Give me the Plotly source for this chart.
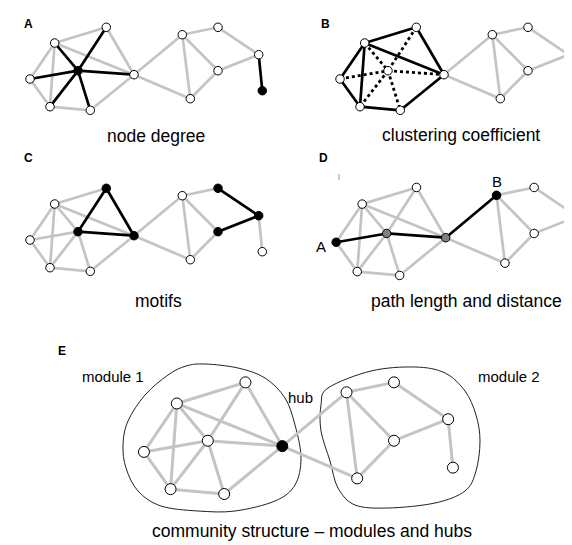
import plotly.graph_objects as go

# ---- network data (base layout, panel A pixel space) ----
node_x = [46.7, 98.3, 22.0, 70.0, 42.0, 82.3, 126.0, 174.3, 210.0, 250.7, 210.0, 182.3, 254.3]
node_y = [35.0, 19.3, 71.0, 62.7, 98.7, 102.3, 66.7, 26.7, 19.3, 46.7, 62.7, 90.7, 82.7]
edges = [(0, 1), (0, 2), (0, 3), (0, 4), (0, 6), (1, 3), (1, 6), (2, 3), (2, 4), (3, 4),
         (3, 5), (3, 6), (4, 5), (5, 6), (6, 7), (6, 11), (7, 8), (7, 10), (7, 11),
         (8, 9), (9, 10), (9, 12), (10, 11)]

# panel transforms: (sx, sy, tx, ty)
panels = {
    "A": (1.0, 1.0, 0.0, 0.0),
    "B": (1.0, 1.0, 310.0, 0.0),
    "C": (1.0, 1.0, 0.0, 161.0),
    "D": (1.053, 1.06, 305.0, 159.0),
    "E": (1.33, 1.345, 106.7, 348.4),
}
# highlighting per panel
black_edges = {
    "A": [(0, 3), (1, 3), (2, 3), (3, 4), (3, 5), (3, 6), (9, 12)],
    "B": [(0, 1), (0, 2), (0, 4), (0, 6), (1, 6), (2, 4), (4, 5), (5, 6)],
    "C": [(1, 3), (1, 6), (3, 6), (8, 9), (9, 10)],
    "D": [(2, 3), (3, 6), (6, 7)],
    "E": [],
}
dotted_edges = {"B": [(0, 3), (1, 3), (2, 3), (3, 4), (3, 5), (3, 6)]}
black_nodes = {"A": [3, 12], "B": [], "C": [1, 3, 6, 8, 9, 10], "D": [2, 7], "E": [6]}
grey_nodes = {"D": [3, 6]}

# module outlines (pixel space)
module1_x = [197, 230, 257, 277, 287, 293, 287, 267, 227, 190, 153, 130, 118, 115, 120, 137, 160, 178]
module1_y = [356, 360, 370, 390, 417, 450, 477, 493, 503, 503, 498, 483, 460, 437, 413, 387, 367, 358]
module2_x = [320, 363, 407, 437, 457, 468, 472, 468, 457, 427, 380, 347, 330, 322, 313, 313]
module2_y = [380, 363, 359, 365, 383, 407, 433, 463, 483, 495, 500, 497, 480, 453, 423, 397]

GREY = "#c4c4c4"
fig = go.Figure()


def pos(p, i):
    sx, sy, tx, ty = panels[p]
    return node_x[i] * sx + tx, node_y[i] * sy + ty


def edge_trace(p, elist, color, width, dash="solid"):
    xs, ys = [], []
    for a, b in elist:
        xa, ya = pos(p, a)
        xb, yb = pos(p, b)
        xs += [xa, xb, None]
        ys += [ya, yb, None]
    fig.add_trace(go.Scatter(x=xs, y=ys, mode="lines",
                             line=dict(color=color, width=width, dash=dash),
                             hoverinfo="skip", showlegend=False))


for p in panels:
    big = p == "E"
    special = set(black_edges[p]) | set(dotted_edges.get(p, []))
    greys = [e for e in edges if e not in special]
    edge_trace(p, greys, GREY, 3.0 if big else 2.7)
    if black_edges[p]:
        edge_trace(p, black_edges[p], "#000000", 2.7)
    if p in dotted_edges:
        edge_trace(p, dotted_edges[p], "#000000", 2.8, "dot")
    fills = []
    for i in range(len(node_x)):
        if i in black_nodes[p]:
            fills.append("#000000")
        elif i in grey_nodes.get(p, []):
            fills.append("#808080")
        else:
            fills.append("#ffffff")
    xs = [pos(p, i)[0] for i in range(len(node_x))]
    ys = [pos(p, i)[1] for i in range(len(node_x))]
    fig.add_trace(go.Scatter(x=xs, y=ys, mode="markers",
                             marker=dict(size=11 if big else 8.5, color=fills,
                                         line=dict(color="#000000", width=1)),
                             hoverinfo="skip", showlegend=False))


def smooth_path(px, py):
    n = len(px)
    d = f"M {px[0]},{py[0]} "
    for i in range(n):
        p0 = (px[(i - 1) % n], py[(i - 1) % n])
        p1 = (px[i], py[i])
        p2 = (px[(i + 1) % n], py[(i + 1) % n])
        p3 = (px[(i + 2) % n], py[(i + 2) % n])
        c1 = (p1[0] + (p2[0] - p0[0]) / 6, p1[1] + (p2[1] - p0[1]) / 6)
        c2 = (p2[0] - (p3[0] - p1[0]) / 6, p2[1] - (p3[1] - p1[1]) / 6)
        d += f"C {c1[0]:.1f},{c1[1]:.1f} {c2[0]:.1f},{c2[1]:.1f} {p2[0]},{p2[1]} "
    return d + "Z"


shapes = [
    dict(type="path", path=smooth_path(module1_x, module1_y), xref="x", yref="y",
         line=dict(color="#222222", width=1), layer="below"),
    dict(type="path", path=smooth_path(module2_x, module2_y), xref="x", yref="y",
         line=dict(color="#222222", width=1), layer="below"),
    dict(type="line", x0=331, x1=331, y0=166, y1=172, xref="x", yref="y",
         line=dict(color="#999999", width=1)),
]

FONT = "Liberation Sans, Arial, sans-serif"
texts = [
    ("A", 20, 16, 12, True), ("B", 317, 16, 12, True),
    ("C", 20, 150, 12, True), ("D", 315, 150, 12, True), ("E", 54, 343, 12, True),
    ("node degree", 148, 128, 17.5, False),
    ("clustering coefficient", 453, 127, 17.5, False),
    ("motifs", 150, 293, 17.5, False),
    ("path length and distance", 458, 293, 17.5, False),
    ("community structure – modules and hubs", 304, 523, 17.5, False),
    ("module 1", 105, 368, 15, False), ("module 2", 501, 368, 15, False),
    ("hub", 292, 389, 15, False),
    ("A", 313, 238, 15, False), ("B", 489, 173, 15, False),
]
annotations = []
for t, x, y, s, b in texts:
    annotations.append(dict(text=f"<b>{t}</b>" if b else t, x=x, y=y, xref="x", yref="y",
                            showarrow=False, xanchor="center", yanchor="middle",
                            font=dict(family=FONT, size=s, color="#000000")))

fig.update_layout(
    width=572, height=545, margin=dict(l=0, r=0, t=0, b=0),
    paper_bgcolor="white", plot_bgcolor="white",
    xaxis=dict(range=[0, 572], visible=False, fixedrange=True),
    yaxis=dict(range=[545, 0], visible=False, fixedrange=True),
    shapes=shapes, annotations=annotations, showlegend=False,
)
fig.write_html("out.html")
